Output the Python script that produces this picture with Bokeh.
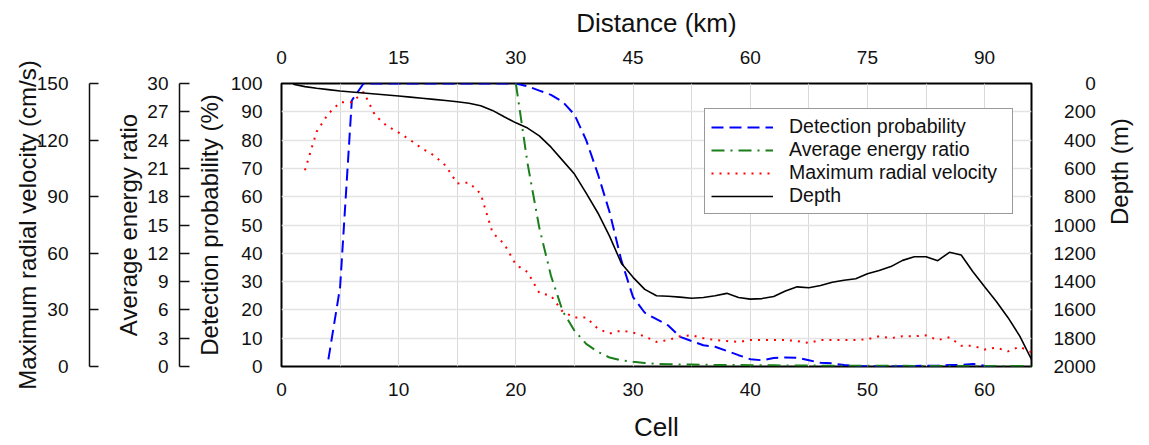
import math
from bokeh.plotting import figure
from bokeh.models import Range1d, LinearAxis, FixedTicker, Legend, LegendItem
from bokeh.embed import file_html
from bokeh.resources import INLINE

# ---- data -------------------------------------------------------------
detection_cells = list(range(4, 62))
detection_prob = [2.5, 28, 94, 100, 100, 100, 100, 100, 100, 100, 100, 100, 100,
                  100, 100, 100, 100, 99, 97.5, 96, 93.5, 89, 80, 68, 54.5, 37.5,
                  24.5, 19, 16.7, 14.5, 10.5, 9, 7.5, 7, 5.5, 4, 2.6, 2.2, 3, 3.2,
                  3.1, 2.2, 1.3, 1.1, 0.5, 0.2, 0.1, 0, 0, 0.1, 0.2, 0.3, 0.3, 0.5,
                  0.6, 0.9, 0.3, 0]

energy_cells = list(range(20, 65))
energy_ratio = [30, 21.5, 14.7, 9.6, 5.85, 3.8, 2.4, 1.55, 0.95, 0.65, 0.5, 0.38,
                0.28, 0.25, 0.22, 0.2, 0.18, 0.17, 0.16, 0.15, 0.14, 0.13, 0.12,
                0.11, 0.1, 0.1, 0.09, 0.09, 0.08, 0.08, 0.08, 0.07, 0.07, 0.07,
                0.06, 0.06, 0.06, 0.06, 0.05, 0.05, 0.05, 0.05, 0.05, 0.05, 0.05]

velocity_cells = list(range(2, 65))
max_velocity = [104, 124.5, 134, 140, 140, 145.5, 133, 127.5, 124, 120, 115.5,
                112, 106.5, 97, 97.5, 91.5, 71, 65, 54, 50, 39, 37.5, 29, 26, 26,
                20, 17.5, 19, 18, 16, 13, 14, 16, 16.5, 15, 14, 13.5, 13, 14, 14,
                14, 14, 13.5, 12.5, 14, 14, 14, 14, 14.5, 16, 15, 16, 16, 16.5,
                14, 15.5, 11, 11, 9, 10, 8, 10.5, 7.5]

depth_cells = list(range(1, 65))
depth_m = [5, 22, 33, 43, 53, 60, 67, 74, 81, 88, 96, 104, 112, 120, 129, 140,
           157, 190, 235, 278, 315, 370, 450, 545, 640, 775, 915, 1080, 1270,
           1370, 1455, 1500, 1503, 1510, 1518, 1512, 1500, 1483, 1512, 1524,
           1520, 1505, 1467, 1437, 1443, 1428, 1405, 1390, 1380, 1345, 1322,
           1294, 1250, 1224, 1224, 1252, 1193, 1212, 1330, 1437, 1540, 1655,
           1785, 1950]

cell_ticks = [0, 10, 20, 30, 40, 50, 60]
distance_ticks = [0, 15, 30, 45, 60, 75, 90]
prob_ticks = list(range(0, 101, 10))
energy_ticks = list(range(0, 31, 3))
velocity_ticks = list(range(0, 151, 30))
depth_ticks = list(range(0, 2001, 200))

# ---- styling ----------------------------------------------------------
FONT = "Liberation Sans"
TICK_SIZE = "19px"
TITLE_SIZE = "24px"
INK = "#111111"


def style_axis(ax, label, tick_standoff, label_standoff, title_size=TITLE_SIZE):
    ax.axis_label = label
    ax.axis_label_text_font = FONT
    ax.axis_label_text_font_size = title_size
    ax.axis_label_text_font_style = "normal"
    ax.axis_label_text_color = INK
    ax.axis_label_standoff = label_standoff
    ax.major_label_text_font = FONT
    ax.major_label_text_font_size = TICK_SIZE
    ax.major_label_text_color = INK
    ax.major_label_standoff = tick_standoff
    ax.minor_tick_in = 0
    ax.minor_tick_out = 0
    ax.minor_tick_line_color = None


def spacer(width):
    # a blank axis that only reserves room between two stacked axes; its single
    # tick sits between the neighbours' ticks and is painted in the background colour
    return LinearAxis(ticker=FixedTicker(ticks=[55]), axis_line_color=None,
                      major_tick_out=width, major_tick_in=0,
                      major_tick_line_color="white", major_tick_line_width=1,
                      minor_tick_out=0, minor_tick_in=0, minor_tick_line_color=None,
                      major_label_overrides={55: ""},
                      major_label_text_font_size="1px", major_label_standoff=0)


p = figure(width=1149, height=445, output_backend="svg", toolbar_location=None,
           x_range=Range1d(0, 64), y_range=Range1d(0, 100),
           min_border_left=281, min_border_right=115,
           min_border_top=83, min_border_bottom=79)
p.extra_y_ranges = {"energy": Range1d(0, 30), "velocity": Range1d(0, 150),
                    "depth": Range1d(2000, 0)}
p.extra_x_ranges = {"dist": Range1d(0, 96)}

p.outline_line_color = "black"
p.outline_line_width = 2
p.background_fill_color = "white"
p.border_fill_color = "white"

# grids: every 10 % horizontally, every 5 cells vertically
p.xgrid.ticker = FixedTicker(ticks=list(range(0, 65, 5)))
p.xgrid.grid_line_color = "#d9d9d9"
p.ygrid.grid_line_color = "#e3e3e3"
p.xgrid.grid_line_width = 1
p.ygrid.grid_line_width = 1.5

# bottom axis: cell index
xa = p.xaxis[0]
xa.ticker = FixedTicker(ticks=cell_ticks)
xa.major_tick_in = 0
xa.major_tick_out = 0
xa.axis_line_color = None
style_axis(xa, "Cell", 16, 13, "26px")

# left primary axis: detection probability
ya = p.yaxis[0]
ya.ticker = FixedTicker(ticks=prob_ticks)
ya.major_tick_in = 0
ya.major_tick_out = 0
ya.axis_line_color = None
style_axis(ya, "Detection probability (%)", 19, 5)

p.add_layout(spacer(13), "left")

energy_axis = LinearAxis(y_range_name="energy", ticker=FixedTicker(ticks=energy_ticks),
                         major_tick_in=10, major_tick_out=0,
                         axis_line_width=1.5, major_tick_line_width=1.5,
                         axis_line_color=INK, major_tick_line_color=INK)
style_axis(energy_axis, "Average energy ratio", 11, 2)
p.add_layout(energy_axis, "left")

p.add_layout(spacer(23), "left")

velocity_axis = LinearAxis(y_range_name="velocity", ticker=FixedTicker(ticks=velocity_ticks),
                           major_tick_in=9, major_tick_out=0,
                           axis_line_width=1.5, major_tick_line_width=1.5,
                           axis_line_color=INK, major_tick_line_color=INK)
style_axis(velocity_axis, "Maximum radial velocity (cm/s)", 21, -7)
p.add_layout(velocity_axis, "left")

# top axis: distance along the transect
dist_axis = LinearAxis(x_range_name="dist", ticker=FixedTicker(ticks=distance_ticks),
                       major_tick_in=0, major_tick_out=0, axis_line_color=None)
style_axis(dist_axis, "Distance (km)", 20, 10, "26px")
p.add_layout(dist_axis, "above")

# right axis: depth, increasing downwards; labels padded with figure spaces
FIG_SPACE = "\u2007"
depth_axis = LinearAxis(y_range_name="depth", ticker=FixedTicker(ticks=depth_ticks),
                        major_tick_in=0, major_tick_out=0, axis_line_color=None,
                        major_label_overrides={d: str(d).rjust(4, FIG_SPACE) for d in depth_ticks},
                        axis_label_orientation=math.pi / 2)
style_axis(depth_axis, "Depth (m)", 22, 21)
p.add_layout(depth_axis, "right")

# ---- series -----------------------------------------------------------
r_det = p.line(detection_cells, detection_prob, line_color="#0000ff", line_width=2,
               line_dash="12 6")
r_en = p.line(energy_cells, energy_ratio, y_range_name="energy", line_color="#1a7f1a",
              line_width=2, line_dash="13 6 2 6")
r_vel = p.line(velocity_cells, max_velocity, y_range_name="velocity", line_color="#ff0000",
               line_width=2, line_dash="2 6")
r_dep = p.line(depth_cells, depth_m, y_range_name="depth", line_color="black",
               line_width=1.6)

legend = Legend(items=[LegendItem(label="Detection probability", renderers=[r_det]),
                       LegendItem(label="Average energy ratio", renderers=[r_en]),
                       LegendItem(label="Maximum radial velocity", renderers=[r_vel]),
                       LegendItem(label="Depth", renderers=[r_dep])],
                location=(423, 152), margin=0, padding=6, spacing=0,
                glyph_width=62, glyph_height=22, label_height=22, label_standoff=16,
                label_width=217,
                label_text_font=FONT, label_text_font_size="19.5px",
                label_text_color=INK, border_line_color="#333333",
                border_line_width=1, background_fill_color="white",
                background_fill_alpha=1)
p.add_layout(legend)

open("out.html", "w").write(file_html(p, INLINE))
